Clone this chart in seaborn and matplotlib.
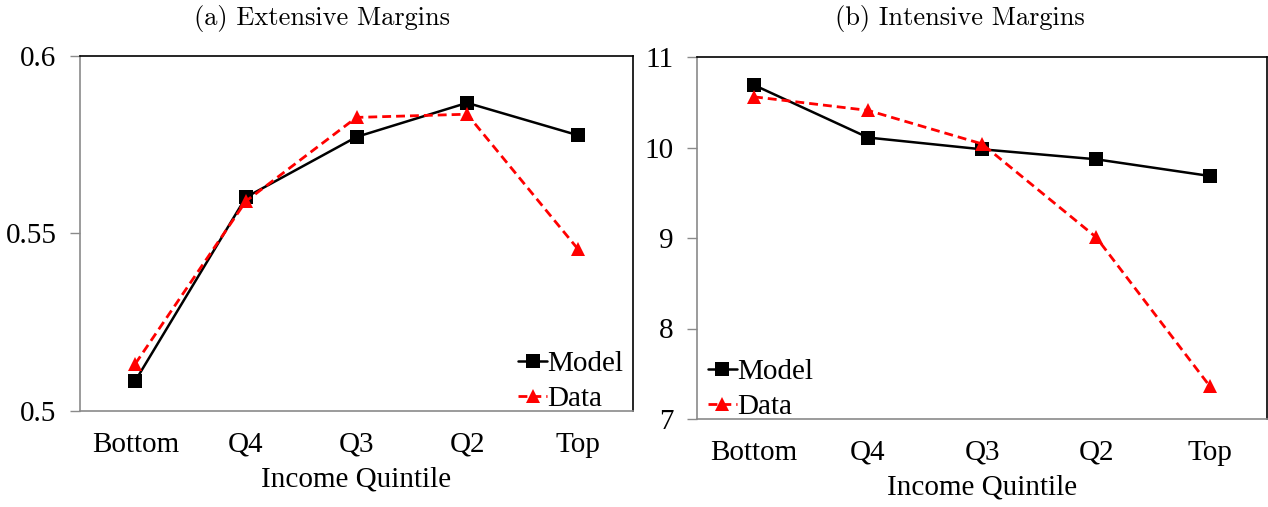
import numpy as np
import pandas as pd
import matplotlib
matplotlib.use("Agg")
import matplotlib.pyplot as plt
import seaborn as sns

categories = ["Bottom", "Q4", "Q3", "Q2", "Top"]
ext_model = [0.5085, 0.5602, 0.5772, 0.5868, 0.5777]
ext_data = [0.5133, 0.5591, 0.5827, 0.5836, 0.5457]
int_model = [10.69, 10.11, 9.98, 9.87, 9.685]
int_data = [10.56, 10.41, 10.04, 9.01, 7.36]
series_names = ["Model", "Data"]
titles = ["(a) Extensive Margins", "(b) Intensive Margins"]
xlabel = "Income Quintile"
ext_yticks = [0.5, 0.55, 0.6]
ext_yticklabels = ["0.5", "0.55", "0.6"]
int_yticks = [7, 8, 9, 10, 11]

sns.set_theme(style="white")
plt.rcParams["font.family"] = ["Liberation Serif", "DejaVu Serif"]
plt.rcParams["text.color"] = "black"
plt.rcParams["axes.labelcolor"] = "black"
plt.rcParams["xtick.labelcolor"] = "black"
plt.rcParams["ytick.labelcolor"] = "black"

def make_df(model, data):
    rows = []
    for i, c in enumerate(categories):
        rows.append({"pos": i, "cat": c, "value": model[i], "series": "Model"})
    for i, c in enumerate(categories):
        rows.append({"pos": i, "cat": c, "value": data[i], "series": "Data"})
    return pd.DataFrame(rows)

W, H = 1268, 507
fig = plt.figure(figsize=(W / 100, H / 100), dpi=100)
ax1 = fig.add_axes([80 / W, 1 - 411 / H, 553 / W, 355 / H])
ax2 = fig.add_axes([697 / W, 1 - 419 / H, 570 / W, 362 / H])

palette = {"Model": "black", "Data": "#ff0000"}
markers = {"Model": "s", "Data": "^"}
dashes = {"Model": "", "Data": (3.2, 1.8)}

FS = 21
gray = "#8a8a8a"

configs = [
    (ax1, (ext_model, ext_data), (0.5, 0.6), ext_yticks, ext_yticklabels, titles[0], 322,
     "lower right", (1 - 4 / 553, -7 / 355)),
    (ax2, (int_model, int_data), (7, 11), int_yticks, [str(v) for v in int_yticks], titles[1], 960,
     "lower left", (5 / 570, -7 / 362)),
]

for ax, (model, data), ylim, yt, ytl, title, cx, leg, anchor in configs:
    df = make_df(model, data)
    sns.lineplot(data=df, x="pos", y="value", hue="series", style="series",
                 palette=palette, markers=markers, dashes=dashes,
                 hue_order=series_names, style_order=series_names,
                 markersize=10, markeredgewidth=0, linewidth=1.8, ax=ax)
    for ln in ax.lines:
        if ln.get_color() in ("#ff0000", (1.0, 0.0, 0.0, 1.0)):
            ln.set_linewidth(2.0)
    ax.set_xlim(-0.5, 4.5)
    ax.set_ylim(*ylim)
    ax.set_xticks(range(len(categories)))
    ax.set_xticklabels(categories, fontsize=FS)
    ax.set_xticks(np.arange(-0.5, 5.0, 1.0), minor=True)
    ax.tick_params(axis="x", which="major", length=0, pad=15)
    ax.tick_params(axis="x", which="minor", length=8, width=1, color=gray, direction="out")
    ax.set_yticks(yt)
    ax.set_yticklabels(ytl, fontsize=FS)
    ax.tick_params(axis="y", which="major", length=7, width=1, color=gray, direction="out", left=True, pad=10)
    ax.set_xlabel(xlabel, fontsize=FS, labelpad=6, color="black")
    ax.set_ylabel("")
    for s in ["top", "right"]:
        ax.spines[s].set_color("black")
        ax.spines[s].set_linewidth(1.2)
    for s in ["left", "bottom"]:
        ax.spines[s].set_color(gray)
        ax.spines[s].set_linewidth(1.2)
    lg = ax.legend(loc=leg, bbox_to_anchor=anchor, frameon=False, fontsize=FS, handlelength=1.0,
                   handletextpad=0.0, labelspacing=0.3, borderaxespad=0.0, borderpad=0.2)
    for t in lg.get_texts():
        t.set_color("black")
    fig.text(cx / W, 1 - 18 / H, title, ha="center", va="center",
             fontsize=19, family="cmr10", color="black")

fig.savefig("out.png", dpi=100)
